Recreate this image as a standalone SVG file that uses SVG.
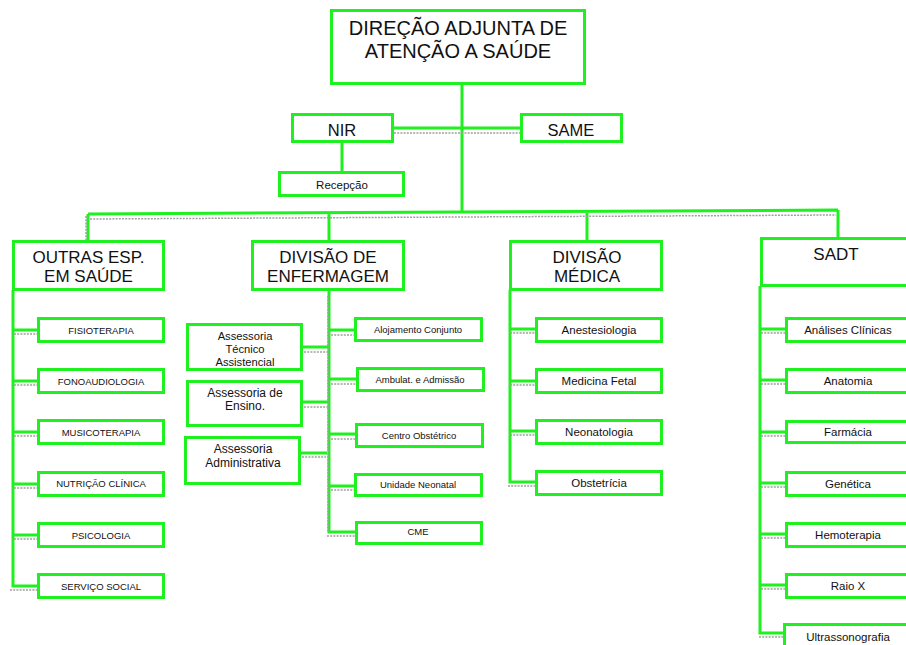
<svg xmlns="http://www.w3.org/2000/svg" width="906" height="645" viewBox="0 0 906 645">
<style>
.box{fill:#fff;stroke:#1ff01f;stroke-width:3}
.ln{fill:none;stroke:#1ff01f;stroke-width:3}
.dt{fill:none;stroke:#a0a0a0;stroke-width:1.5;stroke-dasharray:2 1.2}
text{font-family:"Liberation Sans",Arial,sans-serif;fill:#111;text-anchor:middle}
.t20{font-size:20px}.t17{font-size:17px}.t165{font-size:16.5px}.t12{font-size:12px}.t11{font-size:11.2px}.t115{font-size:11.5px}.t95{font-size:9.5px}
</style>
<defs>
<clipPath id="cTec"><rect x="189" y="326" width="111" height="42"/></clipPath>
</defs>
<rect width="906" height="645" fill="#fff"/>
<g id="connectors">
<path class="ln" d="M462 85V213M394 128H520M342 143V171"/>
<path class="dt" d="M394 133H520"/>
<path class="ln" d="M88 214L838 210M88 214V240M329 213V240M587 211V240M838 210V237"/>
<path class="dt" d="M90 219L836 215M86 216V240"/>
<path class="ln" d="M13 290V586H38M13 330H38M13 381H38M13 432H38M13 484H38M13 535H38"/>
<path class="dt" d="M14 334H38M14 385H38M14 436H38M14 488H38M14 539H38M10 590H38"/>
<path class="ln" d="M329 290V532H355M329 330H355M329 379H356M329 434H355M329 486H354M303 347H329M303 402H329M301 453H327"/>
<path class="dt" d="M328 296V532M331 335H355M331 384H356M331 439H355M331 490H354M327 536H355M304 352H328M304 407H328M302 457H326"/>
<path class="ln" d="M510 290V482H536M510 329H536M510 381H536M510 431H536"/>
<path class="dt" d="M510 333H536M510 385H536M510 435H536M508 486H536"/>
<path class="ln" d="M760 286V633H784M760 329H786M760 380H786M760 432H786M760 483H786M760 534H786M760 585H786"/>
<path class="dt" d="M761 333H786M761 384H786M761 436H786M761 487H786M761 538H786M761 589H786M759 637H784"/>
</g>
<g id="n-direcao"><rect class="box" x="331.5" y="10.5" width="253" height="73"/><text class="t20" x="458" y="35">DIREÇÃO ADJUNTA DE</text><text class="t20" x="458" y="58">ATENÇÃO A SAÚDE</text></g>
<g id="n-nir"><rect class="box" x="292.5" y="114.5" width="100" height="27"/><text class="t165" x="342" y="136">NIR</text></g>
<g id="n-same"><rect class="box" x="521.5" y="114.5" width="100" height="27"/><text class="t165" x="571" y="136">SAME</text></g>
<g id="n-recepcao"><rect class="box" x="279.5" y="172.5" width="124" height="23"/><text class="t115" x="342" y="189">Recepção</text></g>

<g id="n-outras"><rect class="box" x="13.5" y="241.5" width="150" height="48"/><text class="t17" x="88.5" y="263">OUTRAS ESP.</text><text class="t17" x="88.5" y="282">EM SAÚDE</text></g>
<g id="n-fisio"><rect class="box" x="38.5" y="318.5" width="125" height="23"/><text class="t95" x="101" y="334">FISIOTERAPIA</text></g>
<g id="n-fono"><rect class="box" x="38.5" y="369.5" width="125" height="23"/><text class="t95" x="101" y="385">FONOAUDIOLOGIA</text></g>
<g id="n-musico"><rect class="box" x="38.5" y="420.5" width="125" height="23"/><text class="t95" x="101" y="436">MUSICOTERAPIA</text></g>
<g id="n-nutricao"><rect class="box" x="38.5" y="472.5" width="125" height="23"/><text class="t95" x="101" y="487">NUTRIÇÃO CLÍNICA</text></g>
<g id="n-psico"><rect class="box" x="38.5" y="523.5" width="125" height="23"/><text class="t95" x="101" y="539">PSICOLOGIA</text></g>
<g id="n-servico"><rect class="box" x="38.5" y="574.5" width="125" height="23"/><text class="t95" x="101" y="590">SERVIÇO SOCIAL</text></g>

<g id="n-enfermagem"><rect class="box" x="252.5" y="241.5" width="151" height="48"/><text class="t17" x="328" y="263">DIVISÃO DE</text><text class="t17" x="328" y="282">ENFERMAGEM</text></g>
<g id="n-tecnico"><rect class="box" x="187.5" y="324.5" width="114" height="45"/><g clip-path="url(#cTec)"><text class="t11" x="245" y="340">Assessoria</text><text class="t11" x="245" y="353">Técnico</text><text class="t11" x="245" y="366">Assistencial</text></g></g>
<g id="n-ensino"><rect class="box" x="187.5" y="381.5" width="114" height="44"/><text class="t12" x="245" y="397">Assessoria de</text><text class="t12" x="245" y="410">Ensino.</text></g>
<g id="n-admin"><rect class="box" x="185.5" y="437.5" width="114" height="46"/><text class="t12" x="243" y="453">Assessoria</text><text class="t12" x="243" y="467">Administrativa</text></g>
<g id="n-alojamento"><rect class="box" x="355.5" y="318.5" width="126" height="22"/><text class="t95" x="418" y="333">Alojamento Conjunto</text></g>
<g id="n-ambulat"><rect class="box" x="357.5" y="368.5" width="126" height="22"/><text class="t95" x="420" y="383">Ambulat. e Admissão</text></g>
<g id="n-centro"><rect class="box" x="356.5" y="424.5" width="126" height="22"/><text class="t95" x="419" y="439">Centro Obstétrico</text></g>
<g id="n-unidade"><rect class="box" x="355.5" y="474.5" width="126" height="21"/><text class="t95" x="418" y="488">Unidade Neonatal</text></g>
<g id="n-cme"><rect class="box" x="356.5" y="522.5" width="125" height="21"/><text class="t95" x="418" y="535">CME</text></g>

<g id="n-medica"><rect class="box" x="510.5" y="241.5" width="151" height="48"/><text class="t17" x="587" y="263">DIVISÃO</text><text class="t17" x="587" y="282">MÉDICA</text></g>
<g id="n-anest"><rect class="box" x="536.5" y="318.5" width="125" height="23"/><text class="t115" x="599" y="334">Anestesiologia</text></g>
<g id="n-fetal"><rect class="box" x="536.5" y="369.5" width="125" height="23"/><text class="t115" x="599" y="385">Medicina Fetal</text></g>
<g id="n-neonato"><rect class="box" x="536.5" y="420.5" width="125" height="23"/><text class="t115" x="599" y="436">Neonatologia</text></g>
<g id="n-obstet"><rect class="box" x="536.5" y="471.5" width="125" height="23"/><text class="t115" x="599" y="487">Obstetrícia</text></g>

<g id="n-sadt"><rect class="box" x="761.5" y="238.5" width="160" height="47"/><text class="t17" x="836" y="260">SADT</text></g>
<g id="n-analises"><rect class="box" x="786.5" y="318.5" width="140" height="23"/><text class="t115" x="848" y="334">Análises Clínicas</text></g>
<g id="n-anatomia"><rect class="box" x="786.5" y="369.5" width="140" height="23"/><text class="t115" x="848" y="385">Anatomia</text></g>
<g id="n-farmacia"><rect class="box" x="786.5" y="421.5" width="140" height="21"/><text class="t115" x="848" y="436">Farmácia</text></g>
<g id="n-genetica"><rect class="box" x="786.5" y="472.5" width="140" height="23"/><text class="t115" x="848" y="488">Genética</text></g>
<g id="n-hemo"><rect class="box" x="786.5" y="523.5" width="140" height="23"/><text class="t115" x="848" y="539">Hemoterapia</text></g>
<g id="n-raiox"><rect class="box" x="786.5" y="574.5" width="140" height="23"/><text class="t115" x="848" y="590">Raio X</text></g>
<g id="n-ultra"><rect class="box" x="784.5" y="624.5" width="140" height="40"/><text class="t115" x="848" y="641">Ultrassonografia</text></g>
</svg>
